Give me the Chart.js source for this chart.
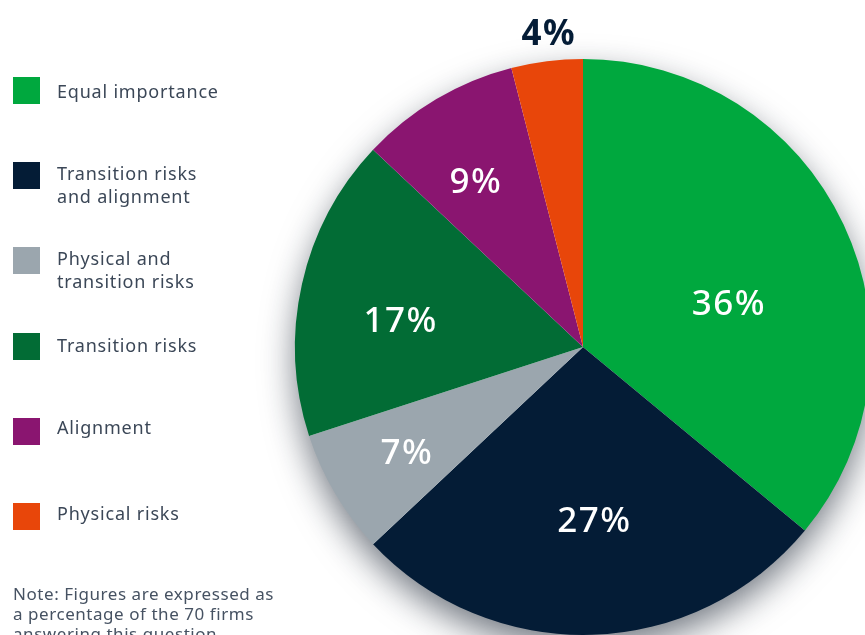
<!DOCTYPE html>
<html>
<head>
<meta charset="utf-8">
<script src="https://cdn.jsdelivr.net/npm/chart.js@4/dist/chart.umd.min.js"></script>
<style>
  html, body { margin: 0; padding: 0; background: #fff; overflow: hidden; }
  #wrap { position: relative; width: 865px; height: 635px; overflow: hidden; }
  #pie { position: absolute; left: 0; top: 0; }
  .leg { position: absolute; left: 13px; font-family: "Noto Sans", sans-serif; font-size: 18px; line-height: 23px; letter-spacing: 0.8px; color: #3b4757; }
  .leg .sw { position: absolute; left: 0; top: 0; width: 27px; height: 27px; }
  .leg .tx { position: absolute; left: 44px; top: 0; white-space: nowrap; }
  #note { position: absolute; left: 13px; top: 584px; font-family: "Noto Sans", sans-serif; font-size: 17px; line-height: 20px; letter-spacing: 0.55px; color: #465262; white-space: nowrap; }
</style>
</head>
<body>
<div id="wrap">
  <canvas id="pie" width="1200" height="700"></canvas>
  <div id="legend"></div>
  <div id="note">Note: Figures are expressed as<br>a percentage of the 70 firms<br>answering this question</div>
</div>
<script>
/* === DATA === */
const categories = ["Equal importance", "Transition risks and alignment", "Physical and transition risks", "Transition risks", "Alignment", "Physical risks"];
const legendLines = [["Equal importance"], ["Transition risks", "and alignment"], ["Physical and", "transition risks"], ["Transition risks"], ["Alignment"], ["Physical risks"]];
const shares = [36, 27, 7, 17, 9, 4];
const sliceColors = ["#00a83e", "#041c36", "#9ba6ae", "#026c35", "#8a1570", "#e8460a"];

// label placement: [angle shift in degrees, distance as fraction of radius]
const labelPlace = [[8, 0.53], [-2, 0.6], [0, 0.71], [-4, 0.64], [-2, 0.69], [1, 1.1]];
const legendNudge = [3, 0, 0, 1, -2, -1];

/* === LEGEND === */
const legendBox = document.getElementById("legend");
legendLines.forEach((lines, i) => {
  const item = document.createElement("div");
  item.className = "leg";
  item.style.top = (77 + i * 85.2) + "px";
  item.innerHTML = `<div class="sw" style="background:${sliceColors[i]}"></div>` +
    `<div class="tx" style="top:${legendNudge[i]}px">${lines.join("<br>")}</div>`;
  legendBox.appendChild(item);
});

/* === PLUGINS === */
const pieShadow = {
  id: "pieShadow",
  beforeDatasetsDraw(chart) {
    const arc = chart.getDatasetMeta(0).data[0];
    if (!arc) return;
    const ctx = chart.ctx;
    ctx.save();
    ctx.shadowColor = "rgba(20, 30, 45, 0.6)";
    ctx.shadowBlur = 34;
    ctx.shadowOffsetY = 14;
    ctx.fillStyle = "#ffffff";
    ctx.beginPath();
    ctx.arc(arc.x, arc.y, arc.outerRadius - 1, 0, Math.PI * 2);
    ctx.fill();
    ctx.restore();
  }
};

const pctLabels = {
  id: "pctLabels",
  afterDatasetsDraw(chart) {
    const ctx = chart.ctx;
    ctx.save();
    ctx.letterSpacing = "1.5px";
    ctx.textAlign = "center";
    ctx.textBaseline = "middle";
    chart.getDatasetMeta(0).data.forEach((arc, i) => {
      const mid = (arc.startAngle + arc.endAngle) / 2 + labelPlace[i][0] * Math.PI / 180;
      const r = arc.outerRadius * labelPlace[i][1];
      const x = arc.x + Math.cos(mid) * r;
      const y = arc.y + Math.sin(mid) * r + 3;
      const outside = labelPlace[i][1] > 1;
      ctx.font = (outside ? "700" : "500") + " 35px 'Noto Sans', sans-serif";
      ctx.fillStyle = outside ? "#041c36" : "#ffffff";
      ctx.fillText(shares[i] + "%", x, y);
    });
    ctx.restore();
  }
};

/* === CHART === */
new Chart(document.getElementById("pie"), {
  type: "pie",
  data: {
    labels: categories,
    datasets: [{
      data: shares,
      backgroundColor: sliceColors,
      borderWidth: 0,
      hoverOffset: 0,
      offset: 0
    }]
  },
  options: {
    responsive: false,
    devicePixelRatio: 1,
    animation: false,
    events: [],
    layout: { padding: { left: 295, top: 59, right: 329, bottom: 65 } },
    plugins: { legend: { display: false }, tooltip: { enabled: false } }
  },
  plugins: [pieShadow, pctLabels]
});
</script>
</body>
</html>
